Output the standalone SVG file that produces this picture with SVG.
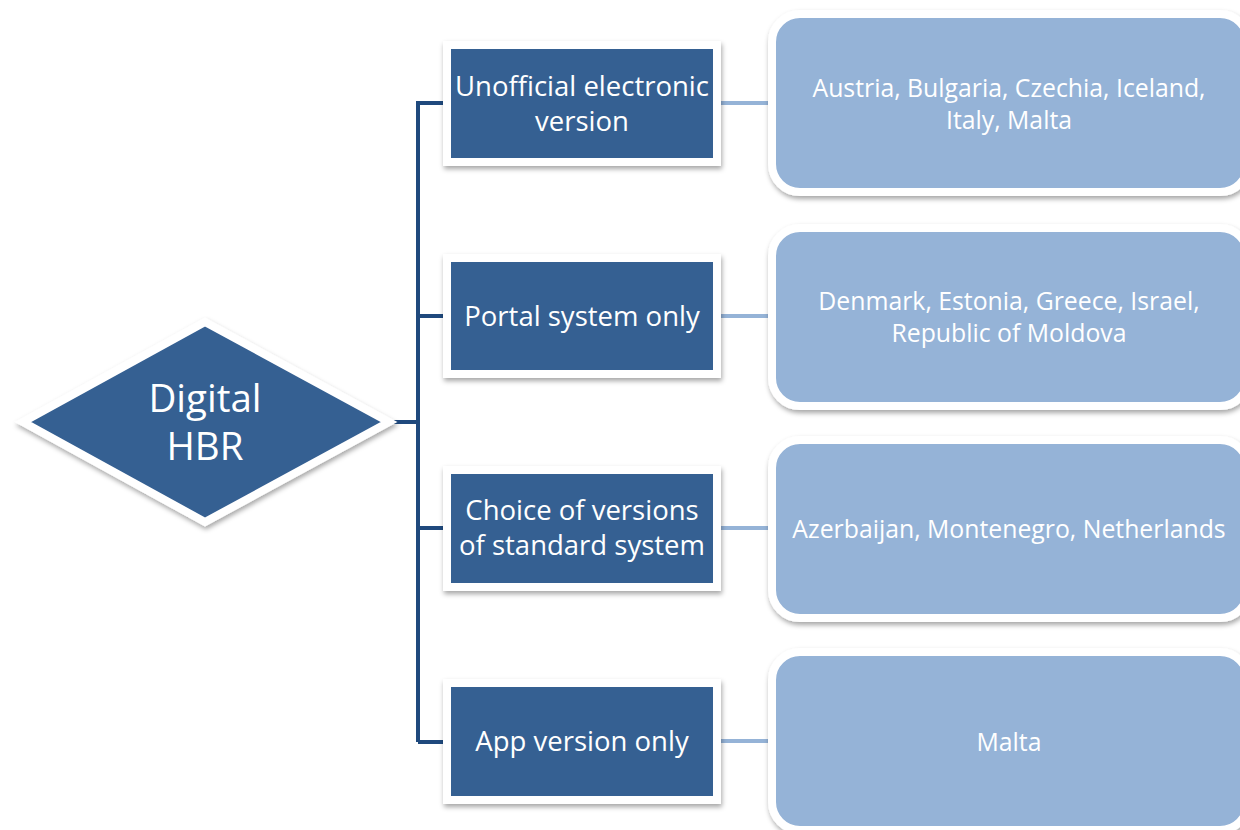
<svg xmlns="http://www.w3.org/2000/svg" width="1240" height="830" viewBox="0 0 1240 830">
<defs>
<filter id="sh" x="-10%" y="-10%" width="125%" height="130%">
<feDropShadow dx="1" dy="3" stdDeviation="2.5" flood-color="#000" flood-opacity="0.35"/>
</filter>
<style>
.lv1 { fill: #366092; stroke: #ffffff; stroke-width: 8; filter: url(#sh); }
.lv2 { fill: #95B3D7; stroke: #ffffff; stroke-width: 8; filter: url(#sh); }
.dm { fill: #366092; stroke: #ffffff; stroke-width: 8; stroke-linejoin: miter; filter: url(#sh); }
.t1 { font-family: "Open Sans", "Noto Sans", sans-serif; font-size: 27.5px; fill: #ffffff; text-anchor: middle; }
.t2 { font-family: "Open Sans", "Noto Sans", sans-serif; font-size: 24.8px; fill: #ffffff; text-anchor: middle; }
.t0 { font-family: "Open Sans", "Noto Sans", sans-serif; font-size: 38.5px; fill: #ffffff; text-anchor: middle; }
.dk { stroke: #1F497D; stroke-width: 4; fill: none; }
.lt { stroke: #95B3D7; stroke-width: 4; fill: none; }
</style>
</defs>
<g id="connectors">
<path class="dk" d="M390 422 H418 M418 101 V742 M418 103 H450 M418 316 H450 M418 528 H450 M418 742 H450"/>
<path class="lt" d="M715 103 H776 M715 316 H776 M715 528 H776 M715 741 H776"/>
</g>
<g id="root">
<polygon class="dm" points="23,422 205,322 389,422 205,522"/>
<text class="t0" x="205" y="412">Digital</text>
<text class="t0" x="205" y="460">HBR</text>
</g>
<g id="n1">
<rect class="lv1" x="447" y="45" width="270" height="117"/>
<text class="t1" x="582" y="96">Unofficial electronic</text>
<text class="t1" x="582" y="131">version</text>
</g>
<g id="n2">
<rect class="lv1" x="447" y="258" width="270" height="116"/>
<text class="t1" x="582" y="326">Portal system only</text>
</g>
<g id="n3">
<rect class="lv1" x="447" y="470" width="270" height="117"/>
<text class="t1" x="582" y="520">Choice of versions</text>
<text class="t1" x="582" y="555">of standard system</text>
</g>
<g id="n4">
<rect class="lv1" x="447" y="683" width="270" height="117"/>
<text class="t1" x="582" y="751">App version only</text>
</g>
<g id="c1">
<rect class="lv2" x="772" y="14" width="476" height="178" rx="28"/>
<text class="t2" x="1009" y="97">Austria, Bulgaria, Czechia, Iceland,</text>
<text class="t2" x="1009" y="129">Italy, Malta</text>
</g>
<g id="c2">
<rect class="lv2" x="772" y="228" width="476" height="178" rx="28"/>
<text class="t2" x="1009" y="310">Denmark, Estonia, Greece, Israel,</text>
<text class="t2" x="1009" y="342">Republic of Moldova</text>
</g>
<g id="c3">
<rect class="lv2" x="772" y="440" width="476" height="178" rx="28"/>
<text class="t2" x="1009" y="538">Azerbaijan, Montenegro, Netherlands</text>
</g>
<g id="c4">
<rect class="lv2" x="772" y="652" width="476" height="178" rx="28"/>
<text class="t2" x="1009" y="751">Malta</text>
</g>
</svg>
